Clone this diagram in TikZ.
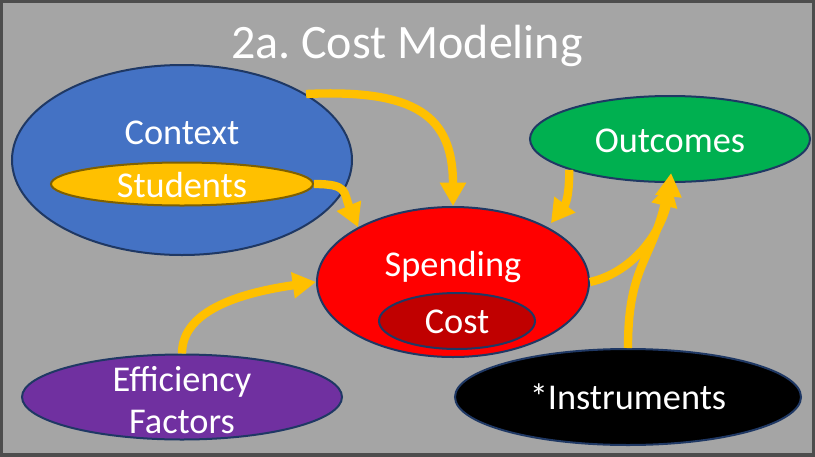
\documentclass[tikz,border=0pt]{standalone}
\usepackage{fontspec}
\setmainfont{Carlito}
\usepackage{tikz}
\usetikzlibrary{positioning}
\usetikzlibrary{arrows.meta}
\usetikzlibrary{shapes.geometric}
\frenchspacing

\definecolor{slidegray}{HTML}{A5A5A5}
\definecolor{framegray}{HTML}{4D4D4D}
\definecolor{rimblue}{HTML}{1F3864}
\definecolor{ctxblue}{HTML}{4472C4}
\definecolor{gold}{HTML}{FFC000}
\definecolor{goldrim}{HTML}{7F6000}
\definecolor{costred}{HTML}{C00000}
\definecolor{outgreen}{HTML}{00B050}
\definecolor{effpurple}{HTML}{7030A0}

\begin{document}
\begin{tikzpicture}[x=0.3mm,y=-0.3mm]
        \tikzstyle{blob}=[ellipse,draw=rimblue,line width=0.6mm,inner sep=0pt]
        \tikzstyle{word}=[text=white,font=\fontsize{31}{36}\selectfont,
            inner sep=0pt,align=center]
        \tikzstyle{flow}=[draw=gold,line width=2.5mm,
            -{Triangle[length=7mm,width=7.5mm]}]

            \useasboundingbox (0,0) rectangle (815,456);
            \draw[fill=slidegray,draw=framegray,line width=1.6mm] (0,0) rectangle (815,456);

            \node[word,font=\fontsize{41}{48}\selectfont] (title) at (407,46) {2a. Cost Modeling};

            % ellipses
            \node[blob,fill=ctxblue,minimum width=102mm,minimum height=57mm] (context) at (182,160) {};
            \node[blob,fill=gold,draw=goldrim,minimum width=78.6mm,minimum height=12.9mm] (students) at (182,184) {};
            \node[blob,fill=red,minimum width=81.6mm,minimum height=45mm] (spending) at (453,282) {};
            \node[blob,fill=costred,minimum width=46.8mm,minimum height=16.8mm] (cost) at (457,321) {};
            \node[blob,fill=outgreen,minimum width=84mm,minimum height=25.8mm] (outcomes) at (670,139) {};
            \node[blob,fill=effpurple,minimum width=96mm,minimum height=25.5mm] (efficiency) at (182,397) {};
            \node[blob,fill=black,minimum width=103.8mm,minimum height=28.8mm] (instruments) at (628,397) {};

            % labels
            \node[word] (contextlbl) at (182,133) {Context};
            \node[word] (studentslbl) at (182,185) {Students};
            \node[word] (spendinglbl) at (453,267) {Spending};
            \node[word] (costlbl) at (457,322) {Cost};
            \node[word] (outcomeslbl) at (670,141) {Outcomes};
            \node[word] (efficiencylbl) at (182,400) {Efficiency\\Factors};
            \node[word] (instrumentslbl) at (628,397) {*Instruments};

            % arrows
            \draw[flow] (context.28) .. controls +(110,-5) and +(0,-90) .. (spending.north);
            \draw[flow] (students.east) .. controls +(35,0) and +(-15,-35) .. (spending.150);
            \draw[flow, shorten >=1.5mm] (outcomes.197) .. controls +(0,35) and +(15,-20) .. (spending.30);
            \draw[flow, shorten >=-3mm] (spending.east) .. controls +(45,-10) and +(-5,45) .. (outcomes.south);
            \draw[flow] (instruments.north) .. controls +(0,-80) and +(-20,80) .. (outcomes.south);
            \draw[flow] (efficiency.north) .. controls +(0,-45) and +(-70,10) .. (spending.west);
        \end{tikzpicture}
\end{document}
